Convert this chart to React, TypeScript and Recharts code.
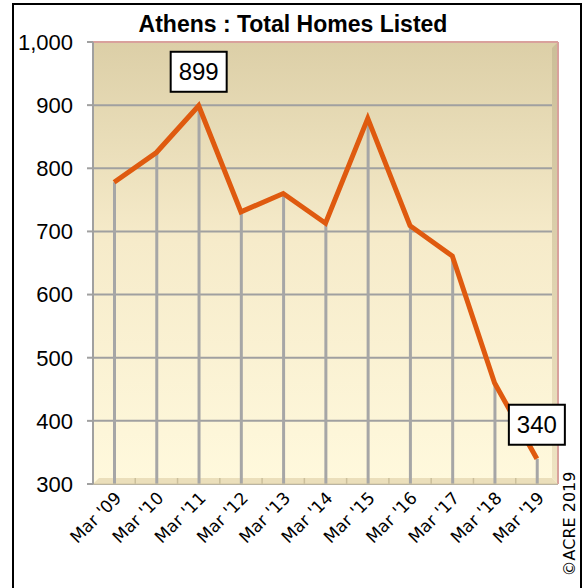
import React from 'react';
import * as Recharts from 'recharts';

const { ComposedChart, Line, Bar, XAxis, YAxis, CartesianGrid, LabelList } = Recharts as any;

const categories = ["Mar '09", "Mar '10", "Mar '11", "Mar '12", "Mar '13", "Mar '14", "Mar '15", "Mar '16", "Mar '17", "Mar '18", "Mar '19"];
const homesListed = [778, 825, 899, 731, 760, 713, 879, 709, 661, 460, 340];
const yTicks = [300, 400, 500, 600, 700, 800, 900, 1000];
const labeledIndices = [2, 10];
const title = 'Athens : Total Homes Listed';
const copyright = '\u00A9ACRE 2019';

const data = categories.map((c, i) => ({ month: c, value: homesListed[i] }));

const W = 587;
const H = 588;
const MARGIN = { top: 42, right: 29, bottom: 0, left: 0 };
const Y_AXIS_W = 93;
const X_AXIS_H = 104;

const usePlotAreaHook: undefined | (() => any) = (Recharts as any).usePlotArea;

function Frame() {
  const pa = usePlotAreaHook ? usePlotAreaHook() : null;
  const left = pa?.x ?? MARGIN.left + Y_AXIS_W;
  const top = pa?.y ?? MARGIN.top;
  const width = pa?.width ?? W - MARGIN.left - MARGIN.right - Y_AXIS_W;
  const height = pa?.height ?? H - MARGIN.top - MARGIN.bottom - X_AXIS_H;
  const right = left + width;
  const bottom = top + height;
  const d = 6;
  const band = width / categories.length;
  const bTicks = categories.slice(1).map((_, i) => left + band * (i + 1));
  return (
    <g>
      <polygon
        points={`${right - d},${top + d} ${right},${top} ${right},${bottom} ${right - d},${bottom - d}`}
        fill="url(#rightWall)"
      />
      <polygon
        points={`${left},${bottom} ${left + d},${bottom - d} ${right - d},${bottom - d} ${right},${bottom}`}
        fill="#ebdfbb"
      />
      {bTicks.map((tx, i) => (
        <line key={i} x1={tx} x2={tx} y1={bottom - d} y2={bottom} stroke="#cbbf9b" strokeWidth={1.5} />
      ))}
      <line x1={left} x2={right} y1={top} y2={top} stroke="#d9a19c" strokeWidth={2} />
      <line x1={right} x2={right} y1={top} y2={bottom} stroke="#d9a19c" strokeWidth={2} />
      <text
        x={293}
        y={32}
        textAnchor="middle"
        fontFamily="Liberation Sans, Arial, sans-serif"
        fontWeight="bold"
        fontSize={23}
        fill="#000"
      >
        {title}
      </text>
      <text
        x={0}
        y={0}
        transform={`translate(575,524) rotate(-90)`}
        textAnchor="middle"
        fontFamily="DejaVu Sans, Verdana, sans-serif"
        fontSize={16}
        fill="#000"
      >
        {copyright}
      </text>
      <rect x={13} y={4} width={568} height={600} fill="none" stroke="#000" strokeWidth={2} />
    </g>
  );
}

function XTick(props: any) {
  const { x, y, payload } = props;
  return (
    <g transform={`translate(${x + 4},${y + 3}) rotate(-45)`}>
      <text x={0} y={0} dy="0.35em" textAnchor="end" fontSize={17} fontFamily="DejaVu Sans, Verdana, sans-serif" fill="#000">
        {payload.value}
      </text>
    </g>
  );
}

function ValueBox(props: any) {
  const { x, y, value, index } = props;
  if (!labeledIndices.includes(index)) return null;
  const bw = 56;
  const bh = 40;
  const bx = x - bw / 2;
  const by = y - 14 - bh;
  return (
    <g>
      <rect x={bx} y={by} width={bw} height={bh} fill="#fff" stroke="#000" strokeWidth={2} />
      <text
        x={x}
        y={by + bh / 2}
        dy="0.36em"
        textAnchor="middle"
        fontSize={24}
        fontFamily="Liberation Sans, Arial, sans-serif"
        fill="#000"
      >
        {value}
      </text>
    </g>
  );
}

export default function App() {
  return (
    <div style={{ position: 'absolute', left: 0, top: 0, width: W, height: H, background: '#fff' }}>
      <svg width={0} height={0} style={{ position: 'absolute' }}>
        <defs>
          <linearGradient id="plotBg" x1="0" y1="0" x2="0" y2="1">
            <stop offset="0%" stopColor="#dccfa7" />
            <stop offset="45%" stopColor="#f6ebca" />
            <stop offset="100%" stopColor="#fff9dd" />
          </linearGradient>
          <linearGradient id="rightWall" x1="0" y1="0" x2="0" y2="1">
            <stop offset="0%" stopColor="#cbbe98" />
            <stop offset="100%" stopColor="#efe4c3" />
          </linearGradient>
        </defs>
      </svg>
      <ComposedChart width={W} height={H} data={data} margin={MARGIN}>
        <CartesianGrid
          vertical={false}
          stroke="#a0a0a0"
          strokeWidth={2}
          fill="url(#plotBg)"
          fillOpacity={1}
        />
        <XAxis
          dataKey="month"
          height={X_AXIS_H}
          interval={0}
          tickLine={false}
          axisLine={{ stroke: '#d3c7a3', strokeWidth: 1 }}
          tick={<XTick />}
        />
        <YAxis
          width={Y_AXIS_W}
          domain={[300, 1000]}
          ticks={yTicks}
          interval={0}
          allowDataOverflow
          tickSize={6}
          tickMargin={14}
          tickLine={{ stroke: '#a0a0a0', strokeWidth: 2 }}
          axisLine={{ stroke: '#a0a0a0', strokeWidth: 2 }}
          tickFormatter={(v: number) => v.toLocaleString('en-US')}
          tick={{ fontSize: 22, fill: '#000', fontFamily: 'Liberation Sans, Arial, sans-serif' }}
        />
        <Frame />
        <Bar dataKey="value" barSize={3} fill="#a6a6a6" isAnimationActive={false} />
        <Line
          type="linear"
          dataKey="value"
          stroke="#df5a0f"
          strokeWidth={5}
          dot={false}
          activeDot={false}
          isAnimationActive={false}
        >
          <LabelList dataKey="value" content={<ValueBox />} />
        </Line>
      </ComposedChart>
    </div>
  );
}
